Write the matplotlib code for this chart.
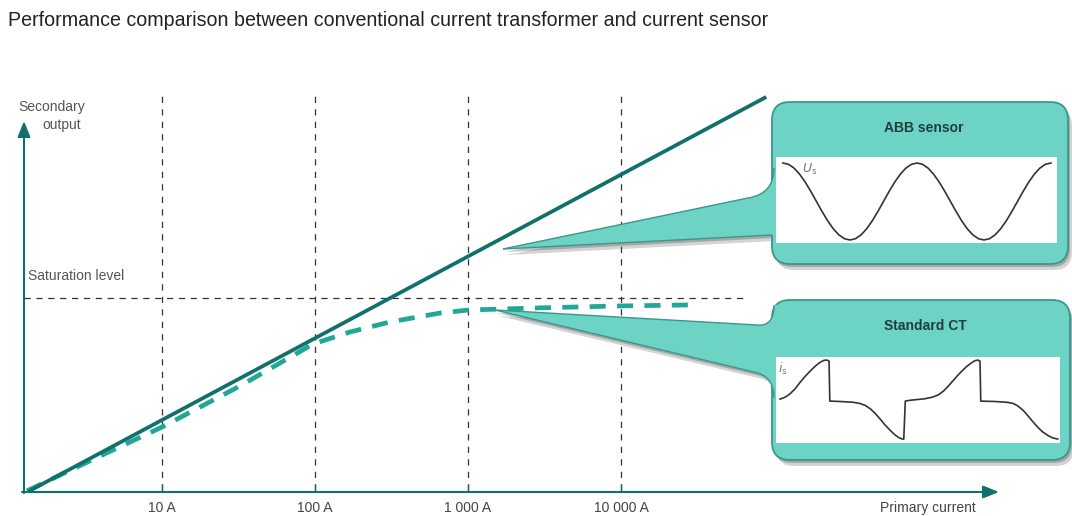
import matplotlib.pyplot as plt
import matplotlib.transforms as mtransforms
from matplotlib.patches import FancyBboxPatch, PathPatch, Rectangle, FancyArrowPatch
from matplotlib.path import Path
import numpy as np

plt.rcParams['font.family'] = ['Liberation Sans', 'DejaVu Sans']

# ---- data ----
decade_ticks = [10, 100, 1000, 10000]
tick_labels = ['10 A', '100 A', '1 000 A', '10 000 A']

# ABB sensor: linear response (log-log straight line)
sensor_current = [1.33, 89000]
sensor_output = [1.33, 89000]

# conventional CT: follows the line, then saturates
ct_current = [1.31, 3.94, 10, 32.4, 97, 169, 309, 656, 1000, 2950, 9840, 28200]
ct_output = [1.36, 3.63, 8.2, 26.1, 84.9, 119, 158, 203, 221, 235, 248, 255]

saturation_level = 310

# secondary waveforms (time in ms, normalised amplitude)
abb_time = np.arange(0, 40.01, 40 / 48)
abb_us = [1.0, 0.966, 0.866, 0.707, 0.5, 0.259, 0.0, -0.259, -0.5, -0.707,
          -0.866, -0.966, -1.0, -0.966, -0.866, -0.707, -0.5, -0.259, 0.0,
          0.259, 0.5, 0.707, 0.866, 0.966, 1.0, 0.966, 0.866, 0.707, 0.5,
          0.259, 0.0, -0.259, -0.5, -0.707, -0.866, -0.966, -1.0, -0.966,
          -0.866, -0.707, -0.5, -0.259, 0.0, 0.259, 0.5, 0.707, 0.866, 0.966,
          1.0]

ct_time = [0, 0.7, 1.3, 2.0, 2.6, 3.3, 4.0, 4.7, 5.3, 5.8, 6.2, 6.5, 6.6,
           8.0, 9.7, 10.6, 11.3, 12.0, 12.6, 13.3, 13.9, 14.6, 15.2, 15.7,
           16.2, 16.4, 16.6,
           17.2, 18.2, 19.2, 20.2, 21.0, 21.7, 22.3, 22.9, 23.5, 24.1, 24.7,
           25.3, 25.8, 26.2, 26.5, 26.6,
           28.5, 30.1, 30.9, 31.5, 32.2, 32.8, 33.5, 34.2, 34.8, 35.5, 36.1,
           36.8]
ct_is = [0.01, 0.06, 0.14, 0.27, 0.42, 0.58, 0.72, 0.85, 0.94, 0.99, 1.0,
         0.97, -0.04,
         -0.05, -0.07, -0.1, -0.15, -0.24, -0.35, -0.5, -0.64, -0.78, -0.89,
         -0.96, -1.0, -1.0, -0.04,
         -0.02, 0.0, 0.02, 0.06, 0.12, 0.22, 0.34, 0.47, 0.6, 0.72, 0.83,
         0.92, 0.98, 1.0, 0.97, -0.04,
         -0.05, -0.07, -0.1, -0.16, -0.27, -0.4, -0.56, -0.71, -0.82, -0.91,
         -0.97, -1.0]

# ---- colours ----
dark_teal = '#12706a'
mid_teal = '#22a797'
box_teal = '#6dd3c4'
box_edge = '#3a978b'
label_grey = '#555555'

W, H = 1072, 516
fig = plt.figure(figsize=(W / 100, H / 100), dpi=100)

# pixel coords measured from the top-left corner
px = mtransforms.Affine2D().scale(1 / W, -1 / H).translate(0, 1) + fig.transFigure

ax = fig.add_axes([0, 0, 1, 1])
ax.set_xscale('log')
ax.set_yscale('log')
ax.set_xlim(10 ** -0.0588, 10 ** 6.9477)
ax.set_ylim(10 ** -0.1734, 10 ** 6.1346)
ax.axis('off')

# grid: decade lines and saturation level
ax.vlines(decade_ticks, 0.05, 0.822, transform=ax.get_xaxis_transform(),
          colors='#333333', lw=0.9, linestyles=(0, (5, 5)))
ax.hlines(saturation_level, 0.0224, 0.695, transform=ax.get_yaxis_transform(),
          colors='#333333', lw=0.9, linestyles=(0, (5, 4.5)))

# curves
ax.plot(ct_current, ct_output, color=mid_teal, lw=3.4, dashes=(3.4, 2.4),
        solid_capstyle='butt', zorder=3)
ax.plot(sensor_current, sensor_output, color=dark_teal, lw=2.7,
        solid_capstyle='butt', zorder=4)

# axes with arrows
ax.add_patch(FancyArrowPatch((22, 492), (999, 492), transform=px,
                             arrowstyle='-|>,head_length=0.95,head_width=0.38',
                             mutation_scale=10, color=dark_teal, lw=1.5,
                             shrinkA=0, shrinkB=0, clip_on=False))
ax.add_patch(FancyArrowPatch((24, 493), (24, 121), transform=px,
                             arrowstyle='-|>,head_length=0.95,head_width=0.38',
                             mutation_scale=10, color=dark_teal, lw=1.5,
                             shrinkA=0, shrinkB=0, clip_on=False))
ax.vlines(decade_ticks, 0.0465, 0.062, transform=ax.get_xaxis_transform(),
          colors=dark_teal, lw=1.0)
for t, lab in zip(decade_ticks, tick_labels):
    ax.text(t, 0.0155, lab, transform=ax.get_xaxis_transform(), ha='center',
            va='center', fontsize=10, color='#444444')

# texts
fig.text(8, 21, 'Performance comparison between conventional current transformer and current sensor',
         transform=px, fontsize=14.1, color='#222222', va='center', ha='left')
fig.text(52, 107, 'Secondary', transform=px, fontsize=10, color=label_grey,
         ha='center', va='center')
fig.text(62, 125, 'output', transform=px, fontsize=10, color=label_grey,
         ha='center', va='center')
fig.text(28, 276, 'Saturation level', transform=px, fontsize=10,
         color=label_grey, ha='left', va='center')
fig.text(928, 508, 'Primary current', transform=px, fontsize=10,
         color='#444444', ha='center', va='center')


def callout(box_xy, box_w, box_h, wedge_verts, wedge_codes, edge_lines,
            panel, title):
    x0, y0 = box_xy
    for off, alpha in [((4, 6), 0.25), ((2, 3), 0.35)]:
        fig.patches.append(FancyBboxPatch(
            (x0 + off[0], y0 + off[1]), box_w, box_h,
            boxstyle='round,pad=0,rounding_size=18', transform=px,
            fc='#555555', ec='none', alpha=alpha))
        sh = [(vx + off[0], vy + off[1]) for vx, vy in wedge_verts]
        fig.patches.append(PathPatch(Path(sh, wedge_codes), transform=px,
                                     fc='#555555', ec='none', alpha=alpha))
    fig.patches.append(FancyBboxPatch(
        box_xy, box_w, box_h, boxstyle='round,pad=0,rounding_size=18',
        transform=px, fc=box_teal, ec=box_edge, lw=1.3))
    fig.patches.append(PathPatch(Path(wedge_verts, wedge_codes), transform=px,
                                 fc=box_teal, ec='none'))
    for verts, codes in edge_lines:
        fig.patches.append(PathPatch(Path(verts, codes), transform=px,
                                     fc='none', ec=box_edge, lw=1.0))
    fig.patches.append(Rectangle((panel[0], panel[1]), panel[2], panel[3],
                                 transform=px, fc='white', ec='none'))
    fig.text(x0 + box_w / 2 + 4, y0 + 26, title, transform=px, fontsize=10,
             fontweight='bold', color='#1f3f3d', ha='center', va='center')


M, L, C, Z = Path.MOVETO, Path.LINETO, Path.CURVE3, Path.CLOSEPOLY

# ABB sensor callout
callout((772, 102), 296, 162,
        [(503, 249), (748, 198), (774, 194), (774, 168), (792, 168),
         (792, 238), (771, 235), (503, 249)],
        [M, L, C, C, L, L, L, Z],
        [([(503, 249), (748, 198), (774, 194), (774, 168)], [M, L, C, C]),
         ([(503, 249), (772, 235)], [M, L])],
        (776, 157, 281, 86), 'ABB sensor')

# Standard CT callout
callout((772, 300), 298, 160,
        [(495, 310), (757, 325), (774, 327), (774, 305), (792, 305),
         (792, 398), (774, 398), (774, 378), (758, 373), (495, 310)],
        [M, L, C, C, L, L, L, C, C, Z],
        [([(495, 310), (757, 325), (774, 327), (774, 305)], [M, L, C, C]),
         ([(495, 310), (758, 373), (774, 378), (774, 398)], [M, L, C, C])],
        (776, 357, 284, 86), 'Standard CT')

# waveform insets (above the figure-level callout patches)
ax_abb = fig.add_axes([776 / W, 1 - 243 / H, 281 / W, 86 / H])
ax_abb.set_zorder(5)
ax_abb.patch.set_visible(False)
ax_abb.plot(abb_time, abb_us, color='#333333', lw=1.2)
ax_abb.set_xlim(-1.04, 40.9)
ax_abb.set_ylim(-1.078, 1.156)
ax_abb.axis('off')
ax_abb.text(4.0, 0.82, r'$U_\mathrm{s}$', fontsize=9, color='#777777',
            ha='center', va='center')

ax_ct = fig.add_axes([776 / W, 1 - 443 / H, 284 / W, 86 / H])
ax_ct.set_zorder(5)
ax_ct.patch.set_visible(False)
ax_ct.plot(ct_time, ct_is, color='#333333', lw=1.2)
ax_ct.set_xlim(-0.53, 37.1)
ax_ct.set_ylim(-1.10, 1.076)
ax_ct.axis('off')
ax_ct.text(0.4, 0.77, r'$i_\mathrm{s}$', fontsize=9, color='#777777',
           ha='center', va='center')

fig.savefig('out.png', dpi=100)
